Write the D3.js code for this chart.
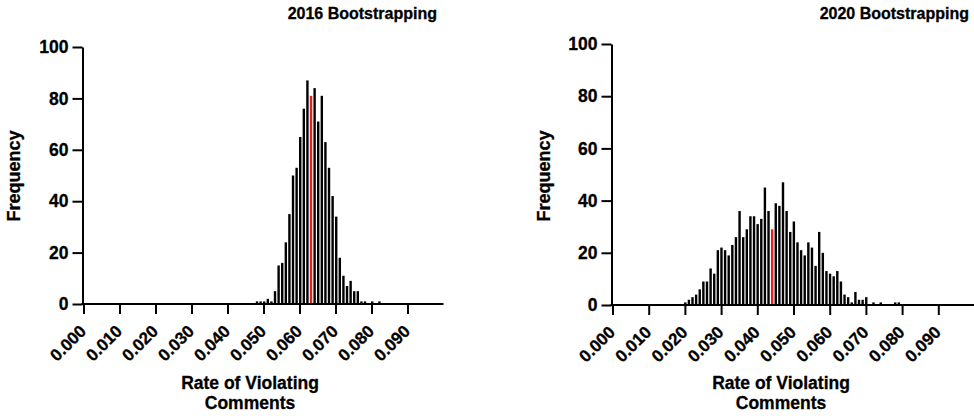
<!DOCTYPE html>
<meta charset="utf-8">
<style>
body { margin: 0; background: #fff; }
text { font-family: "Liberation Sans", Arial, sans-serif; font-weight: bold; fill: #000; stroke: #000; stroke-width: 0.3px; }
</style>
<body>
<svg width="974" height="416"></svg>
<script src="https://d3js.org/d3.v7.min.js"></script>
<script>

// bootstrap histograms, bin centres
var rate2016 = [0.0482, 0.0492, 0.0502, 0.0512, 0.0522, 0.0532, 0.0542, 0.0552, 0.0562, 0.0572,
                0.0582, 0.0592, 0.0602, 0.0612, 0.0622, 0.0632, 0.0642, 0.0652, 0.0662, 0.0672,
                0.0682, 0.0692, 0.0702, 0.0712, 0.0722, 0.0732, 0.0742, 0.0752, 0.0762, 0.0772,
                0.0782, 0.0802, 0.0822];
var freq2016 = [1, 1, 1, 2, 1, 5, 15, 16, 24, 35,
                50, 53, 65, 76, 87, 81, 84, 71, 81, 63,
                53, 42, 34, 18, 11, 7, 9, 5, 5, 1,
                1, 1, 1];
var observed2016 = 0.0632;

var rate2020 = [0.0201, 0.0211, 0.0221, 0.0231, 0.0241, 0.0251, 0.0261, 0.0271, 0.0281, 0.0291,
                0.0301, 0.0311, 0.0321, 0.0331, 0.0341, 0.0351, 0.0361, 0.0371, 0.0381, 0.0391,
                0.0401, 0.0411, 0.0421, 0.0431, 0.0441, 0.0451, 0.0461, 0.0471, 0.0481, 0.0491,
                0.0501, 0.0511, 0.0521, 0.0531, 0.0541, 0.0551, 0.0561, 0.0571, 0.0581, 0.0591,
                0.0601, 0.0611, 0.0621, 0.0631, 0.0641, 0.0651, 0.0661, 0.0671, 0.0681, 0.0691,
                0.0701, 0.0721, 0.0741, 0.0781, 0.0791];
var freq2020 = [1, 2, 3, 4, 6, 9, 9, 14, 12, 21,
                22, 21, 19, 23, 26, 36, 26, 29, 34, 34,
                31, 33, 45, 36, 29, 39, 38, 47, 36, 28,
                32, 24, 21, 19, 24, 22, 15, 28, 20, 13,
                12, 11, 13, 9, 4, 3, 1, 5, 2, 2,
                3, 1, 1, 1, 1];
var observed2020 = 0.0441;

var xTicks = [0, 0.01, 0.02, 0.03, 0.04, 0.05, 0.06, 0.07, 0.08, 0.09];
var yTicks = [0, 20, 40, 60, 80, 100];

var svg = d3.select("svg");

function drawPanel(p) {
  var x = d3.scaleLinear().domain([0, 0.1]).range([p.left, p.right]);
  var y = d3.scaleLinear().domain([0, 100]).range([p.bottom, p.top]);
  var g = svg.append("g");

  var bins = p.rates.map(function(r, i) { return {rate: r, freq: p.freqs[i]}; });
  g.selectAll("rect")
    .data(bins)
    .enter().append("rect")
      .attr("x", function(d) { return x(d.rate) - 1.2; })
      .attr("width", 2.4)
      .attr("y", function(d) { return y(d.freq); })
      .attr("height", function(d) { return y(0) - y(d.freq); })
      .attr("fill", function(d) { return d.rate == p.observed ? "#ee1c1c" : "#000"; });

  var yAx = g.append("g")
      .attr("transform", "translate(" + (p.left - 1) + ",0)")
      .call(d3.axisLeft(y).tickValues(yTicks).tickSize(10).tickPadding(4).tickSizeOuter(0));
  yAx.selectAll("text").style("font-size", "17.5px");

  var xAx = g.append("g")
      .attr("transform", "translate(0," + p.bottom + ")")
      .call(d3.axisBottom(x).tickValues(xTicks).tickSize(10).tickSizeOuter(0)
        .tickFormat(d3.format(".3f")));
  xAx.selectAll("text")
      .style("font-size", "17px")
      .attr("text-anchor", "end")
      .attr("y", 0)
      .attr("dy", "0.35em")
      .attr("transform", "translate(-1,24) rotate(-45)");

  [xAx, yAx].forEach(function(a) {
    a.select(".domain").attr("stroke-width", 2);
    a.selectAll(".tick line").attr("stroke-width", 2);
  });
  // x axis starts at the y axis
  xAx.select(".domain").attr("d", "M" + (p.left - 2) + ",0H" + p.right);

  g.append("text")
      .attr("x", p.titleX)
      .attr("y", 19)
      .attr("text-anchor", "end")
      .style("font-size", "16px")
      .text(p.title);

  g.append("text")
      .attr("transform", "translate(" + p.freqX + ",176) rotate(-90)")
      .attr("text-anchor", "middle")
      .style("font-size", "18px")
      .text("Frequency");

  g.append("text")
      .attr("x", p.labelX)
      .attr("y", 389)
      .attr("text-anchor", "middle")
      .style("font-size", "17.5px")
      .text("Rate of Violating");
  g.append("text")
      .attr("x", p.labelX)
      .attr("y", 409)
      .attr("text-anchor", "middle")
      .style("font-size", "17.5px")
      .text("Comments");
}

drawPanel({rates: rate2016, freqs: freq2016, observed: observed2016, title: "2016 Bootstrapping",
  left: 83.5, right: 443.5, top: 47, bottom: 304, titleX: 437, freqX: 20, labelX: 250});
drawPanel({rates: rate2020, freqs: freq2020, observed: observed2020, title: "2020 Bootstrapping",
  left: 612.5, right: 974.5, top: 44, bottom: 305, titleX: 969, freqX: 550, labelX: 781});

</script>
</body>
